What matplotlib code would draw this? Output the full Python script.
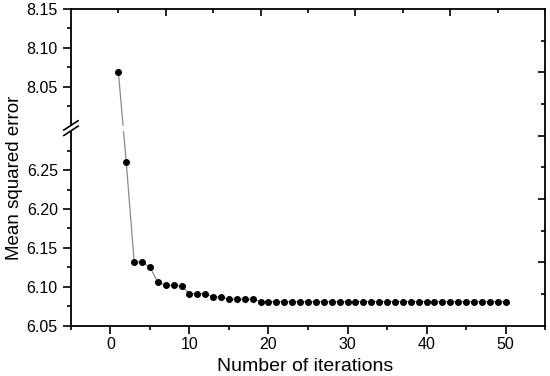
import numpy as np
import matplotlib
matplotlib.use('Agg')
from matplotlib import pyplot as plt
from matplotlib.patches import Rectangle

plt.rcParams['font.family'] = ['Liberation Sans', 'DejaVu Sans']

iterations = list(range(1, 51))
mse = [8.069, 6.260, 6.132, 6.132, 6.125, 6.106, 6.102, 6.102, 6.101, 6.091,
       6.091, 6.091, 6.087, 6.087, 6.084, 6.084, 6.084, 6.084] + [6.081] * 32
low_ticks = [6.05, 6.10, 6.15, 6.20, 6.25]
high_ticks = [8.05, 8.10, 8.15]

# broken axis: lower part 6.05-6.30, upper part 8.00-8.15 stacked on top
ytop = 6.4571
shift = 8.15 - ytop
brk = 6.304

def t(v):
    return np.where(np.asarray(v) > 7, np.asarray(v) - shift, np.asarray(v))

fig = plt.figure(figsize=(5.5, 3.76), dpi=100)
ax = fig.add_axes([0.129, 0.1338, 0.862, 0.8422])

ax.plot(iterations, t(mse), color='#8a8a8a', lw=0.9, zorder=2)
ax.plot(iterations, t(mse), 'o', color='black', ms=4, zorder=3)

ax.set_xlim(-5, 55)
ax.set_ylim(6.05, ytop)

ax.set_xticks([0, 10, 20, 30, 40, 50])
ax.set_xticks([-5, 5, 15, 25, 35, 45, 55], minor=True)
major_y = list(low_ticks) + list(t(high_ticks))
minor_y = [6.075, 6.125, 6.175, 6.225, 6.275] + list(t([8.025, 8.075, 8.125]))
ax.set_yticks(major_y)
ax.set_yticklabels(['%.2f' % v for v in low_ticks + high_ticks])
ax.set_yticks(minor_y, minor=True)

ax.tick_params(axis='both', which='major', direction='out', length=6, width=1.2,
               labelsize=11.5, colors='black')
ax.tick_params(axis='both', which='minor', direction='out', length=3, width=1.2)
ax.tick_params(axis='x', pad=2)
for s in ax.spines.values():
    s.set_linewidth(1.3)

ax.set_xlabel('Number of iterations', fontsize=14)
ax.set_ylabel('Mean squared error', fontsize=13.5)
ax.xaxis.set_label_coords(0.494, -0.102)
ax.yaxis.set_label_coords(-0.102, 0.466)

# white gap across left spine and line at the break
ax.add_patch(Rectangle((-7, brk - 0.0032), 12, 0.0064, facecolor='white',
                       edgecolor='none', clip_on=False, zorder=5))
for dy in (-0.0035, 0.0035):
    ax.plot([-5.9, -4.1], [brk + dy - 0.006, brk + dy + 0.006], color='black',
            lw=1.2, clip_on=False, zorder=6)

# frame ticks on top and right (default layer 0-1)
ax2 = fig.add_axes(ax.get_position(), frameon=False)
ax2.set_xlim(0, 1)
ax2.set_ylim(0, 1)
ax2.xaxis.tick_top()
ax2.yaxis.tick_right()
ax2.set_xticks([0.2, 0.4, 0.6, 0.8])
ax2.set_xticks([0.1, 0.3, 0.5, 0.7, 0.9], minor=True)
ax2.set_yticks([0.2, 0.4, 0.6, 0.8])
ax2.set_yticks([0.1, 0.3, 0.5, 0.7, 0.9], minor=True)
ax2.tick_params(which='major', direction='in', length=5, width=1.2,
                labeltop=False, labelright=False)
ax2.tick_params(which='minor', direction='in', length=3, width=1.2)
ax2.patch.set_visible(False)

fig.savefig('out.png', dpi=100)
